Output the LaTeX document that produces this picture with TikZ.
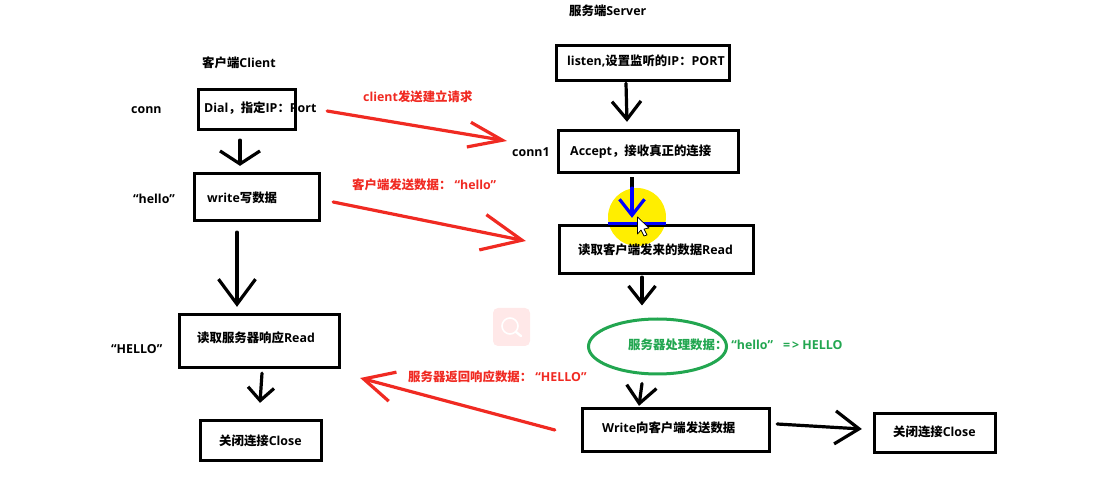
\documentclass[tikz,border=0pt]{standalone}
\usepackage{fontspec}
\setmainfont{Open Sans}
\newfontfamily\cn{Noto Sans CJK SC}
\usetikzlibrary{arrows.meta,shapes.geometric}
\definecolor{penred}{HTML}{F02A22}
\definecolor{pengreen}{HTML}{22A650}
\definecolor{penyellow}{HTML}{FFEE00}
\definecolor{iconpink}{HTML}{FFE8E8}
\begin{document}
\begin{tikzpicture}[
    x=1pt, y=-1pt,
    box/.style={rectangle, draw, line width=3.3pt, minimum width=#1},
    lbl/.style={anchor=west, inner sep=0pt, font=\fontsize{12.4}{15}\selectfont\bfseries},
    redlbl/.style={lbl, text=penred},
    greenlbl/.style={lbl, text=pengreen},
    arrow/.style 2 args={-{Straight Barb[length=#1pt, width=#2pt]}, line width=3.2pt, line cap=round}
]
    \useasboundingbox (0,0) rectangle (1117,502);

    % Cursor highlight
    \node (highlight) [circle, fill=penyellow, minimum size=58pt, inner sep=0pt] at (637,217) {};

    % Search icon
    \node (searchicon) [rectangle, rounded corners=5pt, fill=iconpink, minimum width=37pt, minimum height=38pt, inner sep=0pt] at (511.5,327) {};
    \draw [white, line width=1.6pt] (510,326) circle (8);
    \draw [white, line width=2.4pt, line cap=round] (516,332) -- (521,336);

    % Client
    \node (clienttitle) [lbl] at (202,63) {{\cn 客户端}Client};
    \node (dial) [box=97pt, minimum height=40pt] at (247,109.5) {};
    \node (dialtext) [lbl] at (204,108) {Dial{\cn ，指定}IP{\cn ：}Port};
    \node (conn) [lbl] at (131,110) {conn};
    \node (write) [box=125pt, minimum height=47pt] at (257,197) {};
    \node (writetext) [lbl] at (207,198) {write{\cn 写数据}};
    \node (hello) [lbl] at (133,199) {“hello”};
    \node (readc) [box=160pt, minimum height=53pt] at (259.5,341) {};
    \node (readctext) [lbl] at (197,338) {{\cn 读取服务器响应}Read};
    \node (upper) [lbl] at (111,349) {“HELLO”};
    \node (closec) [box=121pt, minimum height=40pt] at (261,440.5) {};
    \node (closectext) [lbl] at (219,441) {{\cn 关闭连接}Close};

    % Server
    \node (servertitle) [lbl] at (569,11) {{\cn 服务端}Server};
    \node (listen) [box=173pt, minimum height=35pt] at (643,63) {};
    \node (listentext) [lbl] at (567,61) {listen,{\cn 设置监听的}IP{\cn ：}PORT};
    \node (accept) [box=180pt, minimum height=42pt] at (648.5,151.5) {};
    \node (accepttext) [lbl] at (570,152) {Accept{\cn ，接收真正的连接}};
    \node (conna) [lbl] at (512,152) {conn1};
    \node (reads) [box=194pt, minimum height=48pt] at (656.5,249.5) {};
    \node (readstext) [lbl] at (578,250) {{\cn 读取客户端发来的数据}Read};
    \node (process) [ellipse, draw=pengreen, line width=3pt, minimum width=138pt, minimum height=55pt, inner sep=0pt] at (657.5,346.5) {};
    \node (processtext) [greenlbl] at (628,345) {{\cn 服务器处理数据：}\hspace{4pt}“hello”\hspace{10pt}=\,>\ HELLO};
    \node (writes) [box=187pt, minimum height=43pt] at (676,430) {};
    \node (writestext) [lbl] at (602,428) {Write{\cn 向客户端发送数据}};
    \node (closes) [box=121pt, minimum height=39pt] at (935,433) {};
    \node (closestext) [lbl] at (893,432) {{\cn 关闭连接}Close};

    % Red labels
    \node (reqlabel) [redlbl] at (363,97) {client{\cn 发送建立请求}};
    \node (sendlabel) [redlbl] at (352,185) {{\cn 客户端发送数据：}\ “hello”};
    \node (backlabel) [redlbl] at (408,377) {{\cn 服务器返回响应数据：}\ “HELLO”};

    % Arrows
    \draw [arrow={13}{40}] ([shift={(-7,9)}]dial.south) -- ([shift={(-17,-6)}]write.north);
    \draw [arrow={25}{37}] ([shift={(-20,10)}]write.south) -- ([shift={(-22.5,-6)}]readc.north);
    \draw [arrow={13}{26}] ([shift={(2.5,4)}]readc.south) -- ([shift={(-1,-16)}]closec.north);
    \draw [arrow={18}{29}] ([shift={(-17,1)}]listen.south) -- ([shift={(-21.5,-7)}]accept.north);
    \draw [line width=3.2pt] ([shift={(-16.5,3)}]accept.south) -- ([shift={(-16.5,16)}]accept.south);
    \draw [arrow={16}{25}, blue] ([shift={(-16.5,14)}]accept.south) -- ([shift={(-24.5,-6)}]reads.north);
    \draw [arrow={17}{27}] ([shift={(-14.5,2)}]reads.south) -- ([shift={(-15.5,-12)}]process.north);
    \draw [arrow={17}{30}] ([shift={(-15.5,8)}]process.south) -- ([shift={(-37,-1)}]writes.north);
    \draw [arrow={24}{33}] ([shift={(6,-6)}]writes.east) -- ([shift={(-11,-4)}]closes.west);

    % Red arrows
    \draw [arrow={34}{25}, penred] ([shift={(30,1.5)}]dial.east) -- ([shift={(-5,-11)}]conna.west);
    \draw [arrow={40}{36}, penred] ([shift={(12,5)}]write.east) -- ([shift={(-32,-8.5)}]reads.west);
    \draw [arrow={30}{30}, penred] ([shift={(-26,0)}]writes.west) -- ([shift={(19,37)}]readc.east);

    % Highlight over the box edge, and cursor
    \draw [blue, line width=3pt] (highlight.west |- reads.north) -- (highlight.east |- reads.north);
    \draw [fill=white, line width=0.7pt, line join=round] (637.5,217) -- (637.5,234) -- (641,230) -- (644,236) -- (647,235) -- (644,229) -- (649,228) -- cycle;

\end{tikzpicture}
\end{document}
